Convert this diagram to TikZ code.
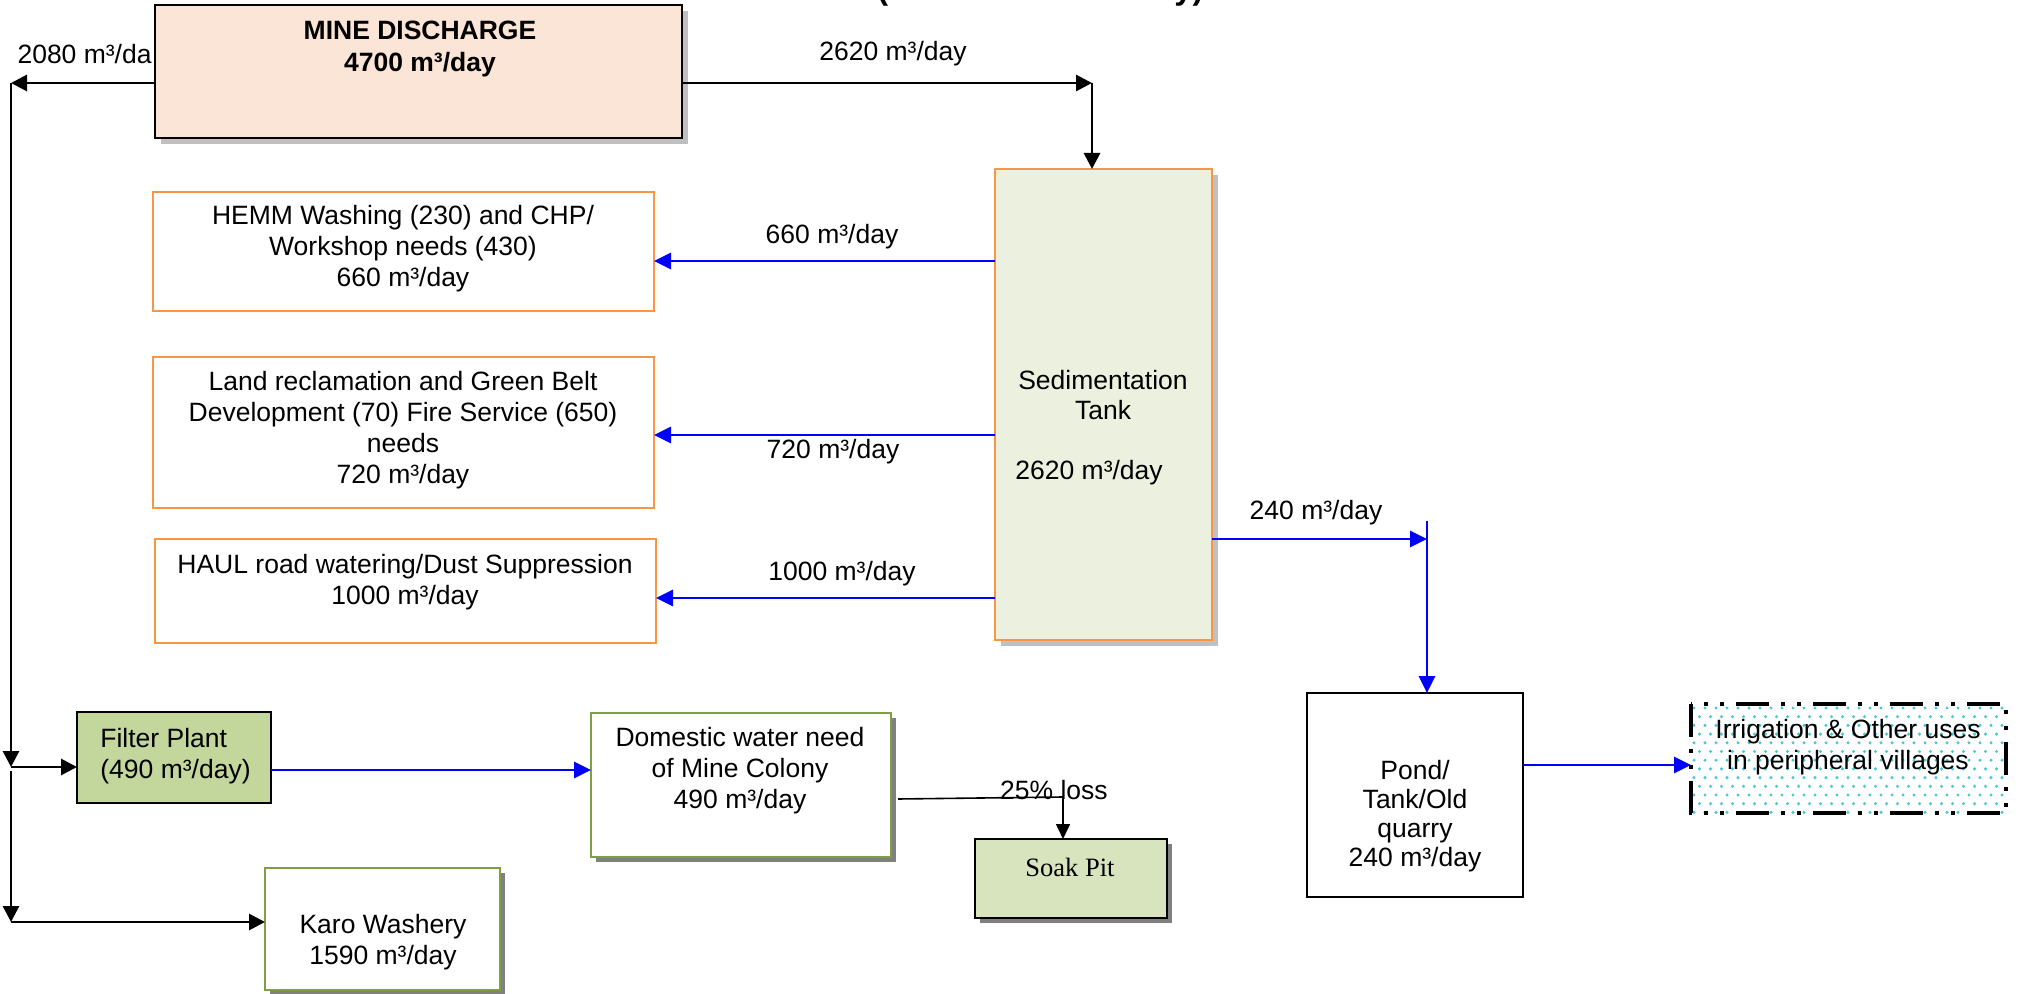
\documentclass[tikz,border=0pt]{standalone}
\usepackage{fontspec}
\setmainfont{Liberation Sans}
\newfontfamily\serifsoak{Liberation Serif}
\usetikzlibrary{arrows.meta,shadows}

\definecolor{orangeB}{HTML}{F79646}
\definecolor{peach}{HTML}{FBE5D6}
\definecolor{tankfill}{HTML}{EBF1DE}
\definecolor{filterfill}{HTML}{C3D69B}
\definecolor{soakfill}{HTML}{D7E4BD}
\definecolor{oliveB}{HTML}{7F9F45}
\definecolor{lshadow}{HTML}{C0C0C0}
\definecolor{dshadow}{HTML}{808080}
\definecolor{dotc}{HTML}{4CC8D2}

\tikzset{
  box/.style={draw, line width=1pt, inner sep=0pt, outer sep=0pt},
  lshad/.style={drop shadow={shadow xshift=3pt,shadow yshift=-3pt,fill=lshadow,opacity=1}},
  dshad/.style={drop shadow={shadow xshift=2.7pt,shadow yshift=-2.7pt,fill=dshadow,opacity=1}},
  txt/.style={align=center, inner sep=0pt},
  blk/.style={line width=1.45pt, -{Triangle[length=8pt,width=8pt]}},
  blu/.style={draw=blue, line width=1.4pt, -{Triangle[length=8.5pt,width=8pt]}},
  thinarr/.style={line width=0.8pt, -{Triangle[length=7.5pt,width=7pt]}},
  dashdotdot/.style={line width=2pt, dash pattern=on 16.5pt off 6pt on 2pt off 6pt on 2pt off 6pt},
}

\begin{document}
\begin{tikzpicture}[x=0.5pt,y=-0.5pt,
  every node/.style={font=\fontsize{13.25}{15.4}\selectfont}]
\useasboundingbox (0,0) rectangle (2019,994);

% cut-off heading at the top edge
\node[anchor=base west, inner sep=0pt, font=\fontsize{16.3}{18}\selectfont\bfseries] (title) at (877,0) {(All values in m³/day)};

% ---------- boxes ----------
\node[box, fill=peach, lshad, minimum width=263.5pt, minimum height=66.5pt] (mine) at (418.5,71.5) {};
\node[txt, font=\fontsize{13.25}{16}\selectfont\bfseries] (minet) at (420,49) {MINE DISCHARGE\\4700 m³/day};

\node[box, draw=orangeB, fill=tankfill, lshad, minimum width=108.5pt, minimum height=235.5pt] (tank) at (1103.5,404.5) {};
\node[txt] (tankt) at (1103,395) {Sedimentation\\Tank};
\node[anchor=west, inner sep=0pt] (tankq) at (1015,473) {2620 m³/day};

\node[box, draw=orangeB, fill=white, minimum width=250.5pt, minimum height=59.5pt] (hemm) at (403.5,251.5) {};
\node[txt] (hemmt) at (403,248.5) {HEMM Washing (230) and CHP/\\Workshop needs (430)\\660 m³/day};

\node[box, draw=orangeB, fill=white, minimum width=250.5pt, minimum height=75.5pt] (land) at (403.5,432.5) {};
\node[txt] (landt) at (403,430) {Land reclamation and Green Belt\\Development (70) Fire Service (650)\\needs\\720 m³/day};

\node[box, draw=orangeB, fill=white, minimum width=250.5pt, minimum height=52pt] (haul) at (405.5,591) {};
\node[txt] (hault) at (405,582) {HAUL road watering/Dust Suppression\\1000 m³/day};

\node[box, fill=filterfill, minimum width=97pt, minimum height=45.5pt] (filter) at (174,757.5) {};
\node[align=left, anchor=west, inner sep=0pt] (filtert) at (100,756) {Filter Plant\\(490 m³/day)};

\node[box, draw=oliveB, fill=white, dshad, minimum width=150pt, minimum height=72pt] (domestic) at (741,785) {};
\node[txt, font=\fontsize{13.25}{15.5}\selectfont] (domestict) at (740,771) {Domestic water need\\of Mine Colony\\490 m³/day};

\node[box, draw=oliveB, fill=white, dshad, minimum width=117.5pt, minimum height=61pt] (karo) at (382.5,929) {};
\node[txt] (karot) at (383,942) {Karo Washery\\1590 m³/day};

\node[box, fill=soakfill, dshad, minimum width=96pt, minimum height=39.5pt] (soak) at (1071,878.5) {};
\node[txt, font=\serifsoak\fontsize{13.25}{15}\selectfont] (soakt) at (1070,867) {Soak Pit};

\node[box, fill=white, minimum width=108pt, minimum height=102pt] (pond) at (1415,795) {};
\node[txt, font=\fontsize{13.25}{14.5}\selectfont] (pondt) at (1415,816.5) {Pond/\\Tank/Old\\quarry\\240 m³/day};

% irrigation box: white, cyan dots, dash-dot-dot border
\node[fill=white, inner sep=0pt, outer sep=0pt, minimum width=157.5pt, minimum height=54.5pt] (irr) at (1848.5,758.5) {};
\begin{scope}
  \clip (irr.north west) rectangle (irr.south east);
  \foreach \j in {0,...,12}{
    \foreach \i in {0,...,29}{
      \fill[dotc] ({1694+11*\i+5.5*mod(\j,2)},{708+8.7*\j}) circle[radius=0.85pt];
    }
  }
\end{scope}
\draw[dashdotdot] (irr.north west) rectangle (irr.south east);
\node[txt] (irrt) at (1848,747) {Irrigation \& Other uses\\in peripheral villages};

% ---------- flow labels ----------
\node[anchor=east, inner sep=0pt] (l2080) at (152,54) {2080 m³/da};
\node[inner sep=0pt] (l2620) at (893,54) {2620 m³/day};
\node[inner sep=0pt] (l660) at (832,237) {660 m³/day};
\node[inner sep=0pt] (l720) at (833,452) {720 m³/day};
\node[inner sep=0pt] (l1000) at (842,574) {1000 m³/day};
\node[inner sep=0pt] (l240) at (1316,513) {240 m³/day};

% ---------- connectors ----------
\coordinate (tl) at (11,83);
\coordinate (tr) at (1092,83);
\coordinate (j1) at (11,767);
\coordinate (j2) at (11,922);
\draw[blk] (mine.west |- tl) -- (tl);
\draw[blk] (mine.east |- tr) -- (tr);
\draw[blk] (tr) -- (tr |- tank.north);
\draw[blk] (tl) -- (j1);
\draw[blk] (j1) -- (filter.west |- j1);
\draw[blk] ([yshift=-2pt]j1) -- (j2);
\draw[blk] (j2) -- (karo.west |- j2);

\coordinate (a660) at (0,261);
\coordinate (a720) at (0,435);
\coordinate (a1000) at (0,598);
\draw[blu] (tank.west |- a660) -- (hemm.east |- a660);
\draw[blu] (tank.west |- a720) -- (land.east |- a720);
\draw[blu] (tank.west |- a1000) -- (haul.east |- a1000);

\coordinate (r1) at (1427,539);
\coordinate (r0) at (1427,521);
\draw[blu] (tank.east |- r1) -- (r1);
\draw[blu] (r0) -- (r0 |- pond.north);

\coordinate (c770) at (0,770);
\draw[blu] (filter.east |- c770) -- (domestic.west |- c770);
\coordinate (c765) at (0,765);
\draw[blu] (pond.east |- c765) -- (irr.west |- c765);

\coordinate (l0) at (898,799);
\coordinate (l1) at (1063,797);
\draw[line width=0.8pt] (l0) -- (l1);
\draw[thinarr] (l1) -- (l1 |- soak.north);
\node[inner sep=0pt] (loss) at (1054,790) {25\% loss};
\end{tikzpicture}
\end{document}
